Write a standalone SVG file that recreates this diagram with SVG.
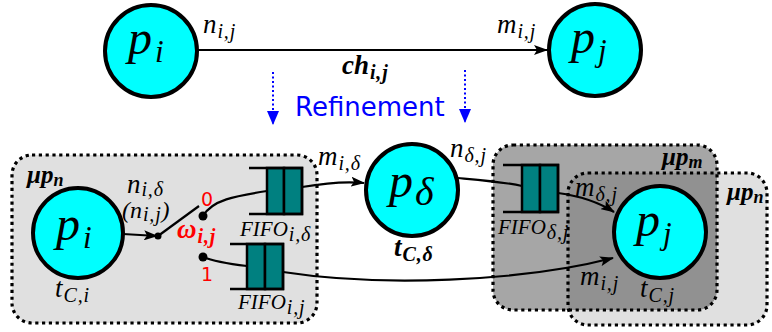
<svg xmlns="http://www.w3.org/2000/svg" width="772" height="332" viewBox="0 0 772 332">
<defs>
<style>
.nd{fill:#00ffff;stroke:#000;stroke-width:4}
.m{font-family:"Liberation Serif","DejaVu Serif",serif;font-style:italic;fill:#000}
.big{font-size:48px}
.lab{font-size:27px}
.sub{font-size:20px;letter-spacing:0.8px}
.bsub{font-size:31px}
.b{font-weight:bold}
.mu{font-size:25px}
.musub{font-size:18px}
.red{fill:#ff0000}
.box{stroke:#000;stroke-width:3.2;stroke-dasharray:3.2 3.6}
.ff{fill:none;stroke:#000;stroke-width:2.5}
.cell{fill:#008080;stroke:#000;stroke-width:2.5}
.ln{fill:none;stroke:#000;stroke-width:2.2}
.arr{marker-end:url(#ah)}
.blue{fill:none;stroke:#0000ff;stroke-width:2;stroke-dasharray:2 2.5}
.sans{font-family:"DejaVu Sans","Liberation Sans",sans-serif}
</style>
<marker id="ah" viewBox="0 0 14 10" refX="13" refY="5" markerWidth="14" markerHeight="10" markerUnits="userSpaceOnUse" orient="auto">
<path d="M0,0 L14,5 L0,10 L3,5 z" fill="#000"/>
</marker>
<marker id="bh" viewBox="0 0 12 14" refX="6" refY="13" markerWidth="12" markerHeight="14" markerUnits="userSpaceOnUse" orient="0">
<path d="M0,0 L12,0 L6,14 z" fill="#0000ff"/>
</marker>
</defs>

<!-- containers -->
<g id="mpn_left">
<rect class="box" x="12" y="155" width="305" height="168" rx="20" fill="#e0e0e0"/>
<text class="m b mu" x="27" y="183">μp<tspan class="musub" dy="3">n</tspan></text>
</g>
<g id="mpm">
<rect class="box" x="493" y="145" width="224" height="165" rx="20" fill="#a6a6a6"/>
<text class="m b mu" x="662" y="165">μp<tspan class="musub" dy="3">m</tspan></text>
</g>
<g id="mpn_right">
<rect class="box" x="568" y="173" width="199" height="152" rx="20" fill="#000" fill-opacity="0.12"/>
<text class="m b mu" x="727" y="200">μp<tspan class="musub" dy="3">n</tspan></text>
</g>

<!-- connectors -->
<g id="connectors">
<line class="ln arr" x1="198" y1="50" x2="547" y2="50"/>
<line class="blue" x1="273" y1="72" x2="273" y2="124" marker-end="url(#bh)"/>
<line class="blue" x1="465" y1="70" x2="465" y2="122" marker-end="url(#bh)"/>
<line class="ln arr" x1="123" y1="234" x2="157" y2="236"/>
<line class="ln" x1="158" y1="236" x2="199" y2="206"/>
<path class="ln" d="M203,216 C212,200 235,196 267,191"/>
<path class="ln arr" d="M302,187 C325,183 345,181 364,183"/>
<path class="ln" d="M203,257 C215,262 230,264 247,266"/>
<path class="ln arr" d="M283,272 C380,287 520,282 613,258"/>
<path class="ln" d="M458,178 C480,180 505,182 522,186"/>
<path class="ln arr" d="M558,193 C580,196 600,203 614,212"/>
<circle cx="158" cy="236" r="3.5" fill="#000"/>
<circle cx="203" cy="216" r="4.5" fill="#000"/>
<circle cx="203" cy="257" r="4.5" fill="#000"/>
</g>

<!-- top level -->
<g id="top_pi">
<circle class="nd" cx="151" cy="51" r="46"/>
<text class="m big" x="128" y="54">p<tspan class="bsub" dx="3" dy="8">i</tspan></text>
</g>
<g id="top_pj">
<circle class="nd" cx="595" cy="50" r="46"/>
<text class="m big" x="571" y="53">p<tspan class="bsub" dx="3" dy="8">j</tspan></text>
</g>
<text class="m lab" x="203" y="33">n<tspan class="sub" dx="1" dy="5">i,j</tspan></text>
<text class="m lab" x="497" y="33">m<tspan class="sub" dx="1" dy="5">i,j</tspan></text>
<text class="m b lab" x="342" y="74">ch<tspan class="sub" dx="1" dy="5">i,j</tspan></text>
<text class="sans" x="295" y="116" font-size="26" fill="#0000ff">Refinement</text>

<!-- bottom nodes -->
<g id="pi">
<circle class="nd" cx="78" cy="233" r="45"/>
<text class="m big" x="56" y="240">p<tspan class="bsub" dx="3" dy="8">i</tspan></text>
<text class="m lab" x="55" y="297">t<tspan class="sub" dx="1" dy="5">C,i</tspan></text>
</g>
<g id="switch">
<text class="m lab" x="127" y="193">n<tspan class="sub" dx="1" dy="3">i,δ</tspan></text>
<text class="m" x="122" y="218" font-size="24">(n<tspan class="sub" dx="1" dy="3">i,j</tspan><tspan dy="-3">)</tspan></text>
<text class="sans red" x="201" y="206" font-size="19">0</text>
<text class="sans red" x="201" y="281" font-size="19">1</text>
<text class="m b red" x="177" y="238" font-size="27">ω<tspan class="sub" dx="1" dy="5">i,j</tspan></text>
</g>
<g id="fifo_id">
<rect class="cell" x="267" y="168" width="17" height="46"/>
<rect class="cell" x="284" y="168" width="18" height="46"/>
<path class="ff" d="M249,168 H302 V214 H249"/>
<text class="m" x="240" y="236" font-size="21">FIFO<tspan class="sub" dx="1" dy="5">i,δ</tspan></text>
</g>
<g id="fifo_ij">
<rect class="cell" x="247" y="244" width="18" height="45"/>
<rect class="cell" x="265" y="244" width="18" height="45"/>
<path class="ff" d="M230,244 H283 V289 H230"/>
<text class="m" x="238" y="309" font-size="21">FIFO<tspan class="sub" dx="1" dy="5">i,j</tspan></text>
</g>
<g id="pdelta">
<circle class="nd" cx="412" cy="190" r="46"/>
<text class="m big" x="389" y="197">p<tspan dx="2" dy="8" font-size="40">δ</tspan></text>
<text class="m b lab" x="394" y="256">t<tspan class="sub" dx="1" dy="5">C,δ</tspan></text>
</g>
<text class="m lab" x="318" y="165">m<tspan class="sub" dx="1" dy="5">i,δ</tspan></text>
<text class="m lab" x="450" y="157">n<tspan class="sub" dx="1" dy="5">δ,j</tspan></text>
<g id="fifo_dj">
<rect class="cell" x="522" y="165" width="18" height="47"/>
<rect class="cell" x="540" y="165" width="18" height="47"/>
<path class="ff" d="M503,165 H558 V212 H503"/>
<text class="m" x="498" y="234" font-size="21">FIFO<tspan class="sub" dx="1" dy="5">δ,j</tspan></text>
</g>
<g id="pj">
<circle class="nd" cx="660" cy="232" r="46"/>
<text class="m big" x="636" y="236">p<tspan class="bsub" dx="3" dy="8">j</tspan></text>
<text class="m lab" x="640" y="297">t<tspan class="sub" dx="1" dy="5">C,j</tspan></text>
</g>
<text class="m lab" x="575" y="196">m<tspan class="sub" dx="1" dy="5">δ,j</tspan></text>
<text class="m lab" x="580" y="285">m<tspan class="sub" dx="1" dy="5">i,j</tspan></text>
</svg>
